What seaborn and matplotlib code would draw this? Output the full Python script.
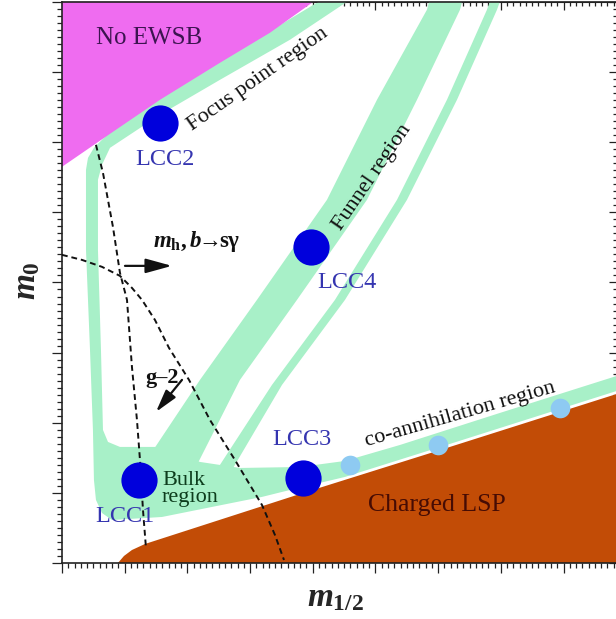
"""Schematic of the mSUGRA (m_1/2, m_0) plane with the LCC benchmark points."""

import matplotlib
matplotlib.use("Agg")
import matplotlib.pyplot as plt
import numpy as np
import pandas as pd
import seaborn as sns
from matplotlib.ticker import MultipleLocator


# Region outlines in plot units (m_1/2 along x, m_0 along y).
NO_EWSB_X = [0.0, 4.083, 3.317, 2.520, 1.563, 0.766, 0.0]
NO_EWSB_Y = [8.05, 8.05, 7.561, 7.133, 6.605, 6.120, 5.649]

CHARGED_LSP_X = [0.87, 0.893, 0.989, 1.116, 1.324, 3.796, 6.188, 8.90, 8.90]
CHARGED_LSP_Y = [-0.1, 0.0, 0.100, 0.185, 0.271, 0.984, 1.655, 2.425, -0.1]

# focus point strip + bulk region + co-annihilation strip (one outline)
ALLOWED_X = [4.179, 3.349, 2.552, 1.595, 0.797, 0.510, 0.415, 0.383, 0.383, 0.447,
             0.494, 0.510, 0.542, 0.638, 0.797, 1.595, 2.392, 3.190, 3.509, 4.514,
             6.188, 8.900, 8.900, 6.986, 5.391, 4.514, 3.796, 2.839, 2.201, 1.563,
             0.925, 0.734, 0.654, 0.622, 0.574, 0.574, 0.638, 0.766, 1.563, 2.520,
             3.636, 4.625]
ALLOWED_Y = [8.05, 7.603, 7.190, 6.662, 6.177, 5.920, 5.777, 5.606, 4.465, 3.039,
             1.897, 1.184, 0.899, 0.713, 0.613, 0.656, 0.799, 0.942, 1.013, 1.227,
             1.698, 2.468, 2.682, 2.140, 1.683, 1.455, 1.369, 1.355, 1.441, 1.655,
             1.655, 1.726, 1.897, 3.039, 4.465, 5.464, 5.678, 5.920, 6.391, 6.890,
             7.461, 8.05]

FUNNEL_X = [1.404, 2.201, 3.110, 4.226, 5.024, 5.821, 5.869,
            6.396, 6.348, 5.662, 4.864, 3.748, 2.839, 2.153]
FUNNEL_Y = [1.541, 2.611, 3.752, 5.178, 6.605, 7.889, 8.05,
            8.05, 7.889, 6.605, 5.178, 3.752, 2.611, 1.398]

FUNNEL_EDGE_X = [2.488, 3.349, 4.354, 5.343, 6.140, 6.778, 6.842,
                 7.002, 6.938, 6.300, 5.502, 4.514, 3.509, 2.711]
FUNNEL_EDGE_Y = [1.355, 2.539, 3.752, 5.178, 6.605, 7.889, 8.05,
                 8.05, 7.889, 6.605, 5.178, 3.752, 2.539, 1.327]

# constraint boundaries (dashed)
HIGGS_BSG_X = [0.0, 0.319, 0.638, 0.925, 1.116, 1.276, 1.483, 1.707, 2.026, 2.360,
               2.759, 3.190, 3.397, 3.541]
HIGGS_BSG_Y = [4.394, 4.322, 4.223, 4.094, 3.923, 3.752, 3.466, 3.067, 2.611, 2.040,
               1.469, 0.827, 0.399, 0.043]
G_MINUS_2_X = [0.542, 0.654, 0.813, 0.925, 1.037, 1.116, 1.196, 1.244, 1.292, 1.340]
G_MINUS_2_Y = [5.963, 5.563, 4.793, 4.137, 3.752, 2.796, 2.040, 1.469, 0.756, 0.214]

# benchmark points
LCC_NAMES = ["LCC1", "LCC2", "LCC3", "LCC4"]
LCC_X = [1.228, 1.563, 3.844, 3.971]
LCC_Y = [1.184, 6.277, 1.213, 4.508]
LCC_LABEL_X = [1.005, 1.643, 3.828, 4.545]
LCC_LABEL_Y = [0.656, 5.749, 1.755, 3.994]

COANN_DOT_X = [4.593, 5.997, 7.943]
COANN_DOT_Y = [1.398, 1.683, 2.211]

# arrows: (tail, head)
HIGGS_ARROW = [(1.005, 4.237), (1.754, 4.237)]
G2_ARROW = [(1.914, 2.611), (1.499, 2.154)]

MAGENTA = "#ef6cf0"
ORANGE = "#c24c06"
GREEN = "#a8f0c8"
BLUE = "#0000dc"
LIGHT_BLUE = "#8ecaf2"
LABEL_BLUE = "#3535b0"


def main() -> None:
    sns.set_style("ticks")
    plt.rcParams["font.family"] = ["Liberation Serif", "DejaVu Serif"]
    plt.rcParams["mathtext.fontset"] = "custom"
    plt.rcParams["mathtext.it"] = "Liberation Serif:italic:bold"
    plt.rcParams["mathtext.rm"] = "Liberation Serif:bold"
    plt.rcParams["mathtext.bf"] = "Liberation Serif:bold"

    fig = plt.figure(figsize=(6.16, 6.19), dpi=100)
    ax = fig.add_axes([0.1006, 0.0905, 0.901, 0.9063])
    ax.set_xlim(0, 8.852)
    ax.set_ylim(0, 8.0)

    ax.fill(ALLOWED_X, ALLOWED_Y, color=GREEN, lw=0, zorder=1)
    ax.fill(FUNNEL_X, FUNNEL_Y, color=GREEN, lw=0, zorder=1)
    ax.fill(FUNNEL_EDGE_X, FUNNEL_EDGE_Y, color=GREEN, lw=0, zorder=1)
    ax.fill(NO_EWSB_X, NO_EWSB_Y, color=MAGENTA, lw=0, zorder=2)
    ax.fill(CHARGED_LSP_X, CHARGED_LSP_Y, color=ORANGE, lw=0, zorder=2)

    for xs, ys in [(HIGGS_BSG_X, HIGGS_BSG_Y), (G_MINUS_2_X, G_MINUS_2_Y)]:
        sns.lineplot(x=xs, y=ys, sort=False, estimator=None, ax=ax, color="#111111",
                     lw=1.4, linestyle=(0, (3, 2)), zorder=3)

    lcc = pd.DataFrame({"x": LCC_X, "y": LCC_Y, "name": LCC_NAMES})
    sns.scatterplot(data=lcc, x="x", y="y", s=680, color=BLUE, linewidth=0,
                    legend=False, ax=ax, zorder=4)
    sns.scatterplot(x=COANN_DOT_X, y=COANN_DOT_Y, s=200, color=LIGHT_BLUE,
                    linewidth=0, legend=False, ax=ax, zorder=4)

    for name, tx, ty in zip(LCC_NAMES, LCC_LABEL_X, LCC_LABEL_Y):
        ax.text(tx, ty, name, color=LABEL_BLUE, fontsize=17.5, ha="center",
                va="center", zorder=5)

    ax.text(1.388, 7.489, "No EWSB", color="#3c1450", fontsize=18, ha="center",
            va="center", zorder=5)
    ax.text(3.126, 6.890, "Focus point region", color="#111111", fontsize=16,
            rotation=35, rotation_mode="anchor", ha="center", va="center", zorder=5)
    ax.text(4.944, 5.492, "Funnel region", color="#111111", fontsize=16,
            rotation=55.6, rotation_mode="anchor", ha="center", va="center", zorder=5)
    ax.text(1.595, 1.056, "Bulk\nregion", color="#0d3d1d", fontsize=16,
            ha="left", va="center", linespacing=0.85, zorder=5)
    ax.text(6.348, 2.111, "co-annihilation region", color="#111111", fontsize=16,
            rotation=16, rotation_mode="anchor", ha="center", va="center", zorder=5)
    ax.text(5.981, 0.827, "Charged LSP", color="#460c04", fontsize=18.5,
            ha="center", va="center", zorder=5)
    ax.text(2.153, 4.579, r"$m_{\mathrm{h}}, b\!\!\rightarrow\!\!\mathrm{s\gamma}$",
            color="#111111", fontsize=16.5, ha="center", va="center", zorder=5)
    ax.text(1.595, 2.639, "g\u20132", color="#111111", fontsize=16,
            fontweight="bold", ha="center", va="center", zorder=5)

    for (tail, head), scale in [(HIGGS_ARROW, 20), (G2_ARROW, 17)]:
        ax.annotate("", xy=head, xytext=tail, zorder=5,
                    arrowprops=dict(arrowstyle="-|>,head_length=0.8,head_width=0.22",
                                    mutation_scale=scale, lw=1.6, color="#111111",
                                    shrinkA=0, shrinkB=0))

    ax.set_xlabel(r"$m_{\mathrm{1/2}}$", fontsize=24)
    ax.set_ylabel(r"$m_{\mathrm{0}}$", fontsize=24)
    ax.xaxis.set_label_coords(0.492, -0.035)
    ax.yaxis.set_label_coords(-0.035, 0.504)

    ax.set_xticks(np.arange(0, 9, 1))
    ax.set_yticks(np.arange(0, 9, 1))
    ax.xaxis.set_minor_locator(MultipleLocator(0.1))
    ax.yaxis.set_minor_locator(MultipleLocator(0.1))
    ax.tick_params(which="both", direction="out", labelbottom=False, labelleft=False,
                   color="#222222", width=0.9)
    ax.tick_params(which="major", length=7)
    ax.tick_params(which="minor", length=3.5)

    top = ax.secondary_xaxis("top")
    top.set_xticks(np.arange(0, 9, 1))
    top.xaxis.set_minor_locator(MultipleLocator(0.1))
    top.tick_params(which="both", direction="in", labeltop=False, color="#222222",
                    width=0.9)
    top.tick_params(which="major", length=6)
    top.tick_params(which="minor", length=3)

    right = ax.secondary_yaxis("right")
    right.set_yticks(np.arange(0, 9, 1))
    right.yaxis.set_minor_locator(MultipleLocator(0.1))
    right.tick_params(which="both", direction="in", labelright=False, color="#222222",
                      width=0.9)
    right.tick_params(which="major", length=6)
    right.tick_params(which="minor", length=3)

    for spine in ax.spines.values():
        spine.set_linewidth(1.2)
        spine.set_color("#222222")

    fig.savefig("out.png", dpi=100)
    plt.close(fig)


if __name__ == "__main__":
    main()
